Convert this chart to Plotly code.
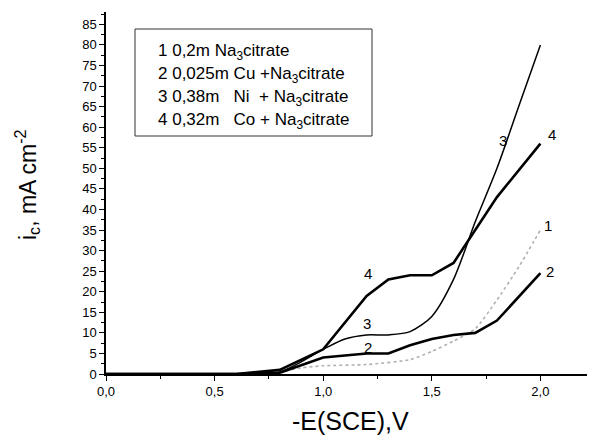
import plotly.graph_objects as go

# Curve data
x1 = [0, 0.7, 0.8, 0.9, 1.0, 1.2, 1.4, 1.5, 1.6, 1.7, 1.8, 1.9, 2.0]
y1 = [0, 0, 0.5, 1.5, 2.0, 2.3, 3.5, 5.5, 8.0, 11.0, 18.0, 26.0, 35.0]

x2 = [0, 0.6, 0.8, 1.0, 1.2, 1.3, 1.4, 1.5, 1.6, 1.7, 1.8, 2.0]
y2 = [0, 0, 0.3, 4.0, 5.0, 5.0, 7.0, 8.5, 9.5, 10.0, 13.0, 24.5]

x3 = [0, 0.6, 0.8, 1.0, 1.1, 1.2, 1.3, 1.4, 1.5, 1.6, 1.7, 1.8, 1.9, 2.0]
y3 = [0, 0, 0.5, 6.0, 8.5, 9.5, 9.5, 10.3, 14.0, 23.0, 37.0, 50.0, 65.0, 80.0]

x4 = [0, 0.6, 0.8, 1.0, 1.2, 1.3, 1.4, 1.5, 1.6, 1.8, 2.0]
y4 = [0, 0, 1.0, 6.0, 19.0, 23.0, 24.0, 24.0, 27.0, 43.0, 56.0]

x_ticks = [0.0, 0.5, 1.0, 1.5, 2.0]
x_ticklabels = ["0,0", "0,5", "1,0", "1,5", "2,0"]
y_ticks = list(range(0, 90, 5))

legend_lines = [
    "1 0,2m Na<sub>3</sub>citrate",
    "2 0,025m Cu +Na<sub>3</sub>citrate",
    "3 0,38m   Ni  + Na<sub>3</sub>citrate",
    "4 0,32m   Co + Na<sub>3</sub>citrate",
]

OFF = 8  # page body margin
W, H = 595 - OFF, 435 - OFF
L, R, T, B = 106 - OFF, 595 - OFF, 12 - OFF, 374 - OFF

def px(x):
    return (x - OFF - L) / (R - L)

def py(y):
    return (B - (y - OFF)) / (B - T)

FONT = "Liberation Sans, Arial, sans-serif"

fig = go.Figure()
fig.add_trace(go.Scatter(x=x1, y=y1, mode="lines", line=dict(color="#b0b0b0", width=1.6, dash="dot", shape="spline", smoothing=0.6)))
fig.add_trace(go.Scatter(x=x2, y=y2, mode="lines", line=dict(color="black", width=2.6)))
fig.add_trace(go.Scatter(x=x3, y=y3, mode="lines", line=dict(color="black", width=1.5, shape="spline", smoothing=0.8)))
fig.add_trace(go.Scatter(x=x4, y=y4, mode="lines", line=dict(color="black", width=2.6)))

annotations = []
# curve labels
for txt, xp, yp in [("4", 368, 273), ("3", 367, 323), ("2", 368, 347),
                    ("3", 503, 140), ("4", 552, 135), ("1", 548, 225), ("2", 550, 271)]:
    annotations.append(dict(x=px(xp), y=py(yp), xref="paper", yref="paper", text=txt,
                            showarrow=False, font=dict(size=15, color="black", family=FONT),
                            xanchor="center", yanchor="middle"))
# legend text
for i, t in enumerate(legend_lines):
    annotations.append(dict(x=px(156), y=py(52 + 23 * i), xref="paper", yref="paper", text=t,
                            showarrow=False, font=dict(size=17, color="black", family=FONT),
                            xanchor="left", yanchor="middle"))
# axis titles
annotations.append(dict(x=px(27), y=py(185), xref="paper", yref="paper",
                        text="i<sub>c</sub>, mA cm<sup>-2</sup>", textangle=-90,
                        showarrow=False, font=dict(size=23, color="black", family=FONT),
                        xanchor="center", yanchor="middle"))
annotations.append(dict(x=px(290), y=py(421), xref="paper", yref="paper",
                        text="-E(SCE),V", showarrow=False,
                        font=dict(size=25, color="black", family=FONT),
                        xanchor="left", yanchor="middle"))

fig.update_layout(
    width=W, height=H,
    margin=dict(l=L, r=W - R, t=T, b=H - B),
    paper_bgcolor="white", plot_bgcolor="white",
    showlegend=False,
    font=dict(family=FONT, color="black", size=13),
    annotations=annotations,
    shapes=[dict(type="rect", xref="paper", yref="paper",
                 x0=px(135), x1=px(372), y0=py(136), y1=py(29),
                 line=dict(color="#333333", width=1), fillcolor="rgba(0,0,0,0)")],
)
fig.update_xaxes(range=[0, (R - L) / 217.2], showgrid=False, zeroline=False,
                 showline=True, linecolor="black", linewidth=1.5,
                 ticks="outside", ticklen=5, tickwidth=1.2, tickcolor="black",
                 tickvals=x_ticks, ticktext=x_ticklabels,
                 tickfont=dict(size=13),
                 minor=dict(ticks="outside", ticklen=3, tickwidth=1.2, tickcolor="black", dtick=0.25, tick0=0))
fig.update_yaxes(range=[0, 88], showgrid=False, zeroline=False,
                 showline=True, linecolor="black", linewidth=1.5,
                 ticks="outside", ticklen=5, tickwidth=1.2, tickcolor="black",
                 tickvals=y_ticks, tickfont=dict(size=13),
                 minor=dict(ticks="outside", ticklen=3, tickwidth=1.2, tickcolor="black", dtick=2.5, tick0=0))

fig.write_html("out.html")
